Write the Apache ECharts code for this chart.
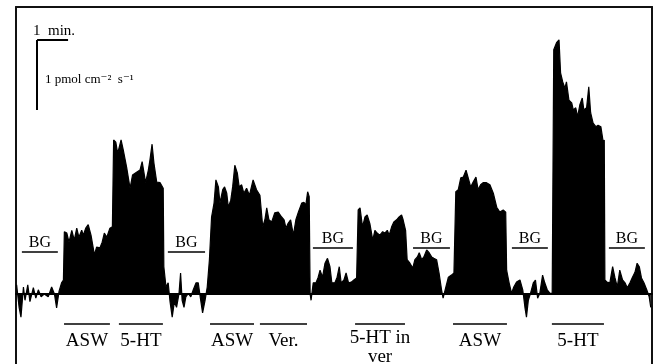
<!DOCTYPE html>
<html>
<head>
<meta charset="utf-8">
<script src="https://cdn.jsdelivr.net/npm/echarts@6/dist/echarts.min.js"></script>
<style>
html, body { margin: 0; padding: 0; background: #fff; }
#chart { width: 657px; height: 364px; }
</style>
</head>
<body>
<div id="chart"></div>
<script>
// flux trace: [time (min), flux (pmol cm-2 s-1)]
var trace = [
    // BG
    [0.02,0.13],[0.10,-0.19],[0.16,-0.33],[0.24,0.10],[0.29,-0.09],[0.38,0.13],[0.45,-0.11],[0.56,0.09],[0.64,-0.06],[0.72,0.06],
    [0.81,-0.04],[0.91,0],[1.04,-0.04],[1.15,0.10],[1.24,0],[1.31,-0.20],[1.39,0.04],[1.47,0.16],[1.53,0.20],
    // ASW
    [1.56,0.89],[1.64,0.87],[1.71,0.74],[1.80,0.91],[1.88,0.77],[1.96,0.94],[2.03,0.81],[2.12,0.91],[2.17,0.84],[2.25,0.94],
    [2.33,0.99],[2.42,0.84],[2.53,0.56],[2.60,0.67],[2.71,0.66],[2.78,0.74],[2.85,0.87],[2.93,0.81],[3.03,0.94],[3.11,0.96],
    // 5-HT
    [3.15,2.20],[3.22,2.17],[3.28,2.01],[3.39,2.20],[3.46,2.06],[3.57,1.81],[3.68,1.51],[3.76,1.70],[3.89,1.74],[4.00,1.77],
    [4.07,1.89],[4.13,1.73],[4.18,1.59],[4.27,1.77],[4.32,1.91],[4.39,2.14],[4.45,1.87],[4.54,1.60],[4.65,1.59],[4.75,1.51],
    // BG
    [4.77,0.39],[4.84,0.10],[4.91,0.16],[4.97,-0.11],[5.04,-0.33],[5.11,-0.11],[5.18,-0.19],[5.26,0.01],[5.31,0.30],[5.36,-0.09],
    [5.42,-0.19],[5.48,-0.04],[5.56,0.01],[5.64,-0.04],[5.72,0.06],[5.81,0.16],[5.88,0.16],[5.96,-0.09],[6.02,-0.27],[6.10,-0.09],
    [6.17,0.10],[6.24,0.49],
    // ASW
    [6.31,1.10],[6.39,1.30],[6.45,1.63],[6.53,1.53],[6.58,1.30],[6.67,1.49],[6.73,1.53],[6.80,1.44],[6.85,1.24],[6.93,1.34],
    [6.99,1.53],[7.06,1.84],[7.14,1.73],[7.20,1.53],[7.28,1.56],[7.35,1.44],[7.44,1.51],[7.53,1.41],[7.65,1.63],[7.76,1.49],
    [7.87,1.41],
    // Ver.
    [7.96,0.96],[8.03,1.06],[8.09,1.23],[8.16,1.06],[8.25,1.03],[8.35,1.16],[8.46,1.17],[8.57,1.10],[8.65,1.06],[8.71,0.94],
    [8.78,1.01],[8.86,1.06],[8.95,0.84],[9.03,1.06],[9.11,1.17],[9.22,1.30],[9.29,1.31],[9.35,1.27],[9.41,1.46],[9.46,1.39],
    // BG
    [9.49,0],[9.52,-0.09],[9.59,0.16],[9.68,0.16],[9.75,0.24],[9.81,0.34],[9.89,0.24],[9.97,0.44],[10.05,0.51],[10.13,0.39],
    [10.19,0.16],[10.29,0.16],[10.36,0.24],[10.43,0.39],[10.49,0.16],[10.58,0.20],[10.65,0.30],[10.73,0.16],[10.82,0.17],[10.90,0.20],
    [10.99,0.23],
    // 5-HT in ver
    [11.04,1.20],[11.10,1.23],[11.18,0.96],[11.26,1.10],[11.33,1.13],[11.42,1.00],[11.51,0.77],[11.58,0.91],[11.65,0.87],[11.74,0.84],
    [11.83,0.89],[11.90,0.87],[11.98,0.91],[12.04,0.84],[12.12,0.96],[12.19,1.03],[12.28,1.06],[12.36,1.10],[12.44,1.13],[12.49,1.06],
    [12.57,0.91],
    // BG
    [12.62,0.49],[12.71,0.44],[12.80,0.37],[12.87,0.49],[12.95,0.53],[13.01,0.59],[13.09,0.49],[13.16,0.53],[13.25,0.63],[13.33,0.59],
    [13.41,0.53],[13.48,0.51],[13.57,0.49],[13.65,0.30],[13.73,0.06],[13.78,-0.06],[13.87,0.10],[13.95,0.24],[14.05,0.27],[14.13,0.30],
    // ASW
    [14.19,1.46],[14.27,1.49],[14.35,1.66],[14.43,1.67],[14.52,1.77],[14.59,1.66],[14.67,1.53],[14.75,1.60],[14.84,1.67],[14.91,1.49],
    [14.99,1.56],[15.07,1.59],[15.18,1.59],[15.29,1.56],[15.40,1.44],[15.51,1.24],[15.61,1.17],[15.72,1.20],[15.80,1.17],
    // BG
    [15.83,0.34],[15.91,0.16],[15.99,0.01],[16.06,0.10],[16.15,0.17],[16.26,0.20],[16.35,0.06],[16.42,-0.19],[16.47,-0.33],[16.53,-0.09],
    [16.60,0.01],[16.69,0.16],[16.76,0.20],[16.83,-0.06],[16.90,0.01],[16.99,0.27],[17.06,0.16],[17.14,0.06],[17.23,0.01],[17.30,0.01],
    // 5-HT
    [17.35,3.49],[17.44,3.59],[17.52,3.63],[17.57,3.16],[17.64,3.03],[17.71,2.94],[17.76,3.03],[17.84,2.77],[17.93,2.73],[17.98,2.63],
    [18.06,2.66],[18.12,2.53],[18.19,2.70],[18.27,2.80],[18.32,2.63],[18.41,2.66],[18.48,2.96],[18.54,2.59],[18.62,2.44],[18.71,2.39],
    [18.78,2.41],[18.87,2.39],[18.95,2.16],[18.98,2.20],
    // BG
    [19.00,0.20],[19.07,0.17],[19.16,0.16],[19.25,0.39],[19.32,0.24],[19.40,0.10],[19.48,0.34],[19.57,0.20],[19.65,0.16],[19.72,0.09],
    [19.81,0.16],[19.89,0.24],[19.97,0.31],[20.04,0.44],[20.11,0.39],[20.18,0.23],[20.26,0.16],[20.35,0.06],[20.43,-0.04],[20.48,-0.19]
];

// background periods (min)
var bgStart = [0.19, 4.90, 9.58, 12.81, 16.00, 19.13];
var bgEnd   = [1.35, 6.10, 10.87, 14.00, 17.16, 20.29];

// treatment periods (min)
var treatNames = ['ASW', '5-HT', 'ASW', 'Ver.', '5-HT in\nver', 'ASW', '5-HT'];
var treatStart = [1.55, 3.32, 6.26, 7.87, 10.94, 14.10, 17.29];
var treatEnd   = [3.03, 4.74, 7.68, 9.39, 12.55, 15.84, 18.97];

// scale bar: 1 min x 1 pmol cm-2 s-1
var scaleT = [0.68, 1.68];
var scaleF = [3.63, 2.63];

var serif = "'Liberation Serif', 'DejaVu Serif', serif";
var myChart = echarts.init(document.getElementById('chart'));

var marks = [];
for (var i = 0; i < bgStart.length; i++) {
    var lv = i < 2 ? 0.60 : 0.66;
    marks.push([
        { coord: [bgStart[i], lv], name: 'BG',
          label: { show: true, position: 'insideMiddleTop', distance: 1, formatter: '{b}',
                   color: '#000', fontFamily: serif, fontSize: 16 } },
        { coord: [bgEnd[i], lv] }
    ]);
}
for (var j = 0; j < treatNames.length; j++) {
    marks.push([
        { coord: [treatStart[j], -0.43], name: treatNames[j],
          label: { show: true, position: 'insideMiddleBottom', distance: j == 4 ? 4 : 7, formatter: '{b}',
                   color: '#000', fontFamily: serif, fontSize: 19, lineHeight: 19 } },
        { coord: [treatEnd[j], -0.43] }
    ]);
}
// scale bar
marks.push([{ coord: [scaleT[0], scaleF[0]], lineStyle: { width: 2 } }, { coord: [scaleT[1], scaleF[0]] }]);
marks.push([{ coord: [scaleT[0], scaleF[0]], lineStyle: { width: 2 } }, { coord: [scaleT[0], scaleF[1]] }]);

var hideAxis = {
    axisTick: { show: false },
    axisLabel: { show: false },
    splitLine: { show: false }
};

var option = {
    animation: false,
    grid: { left: 16, right: 5, top: 7, bottom: 0 },
    xAxis: [
        Object.assign({ type: 'value', min: 0, max: 20.52, position: 'bottom',
            axisLine: { show: true, onZero: true, lineStyle: { color: '#000', width: 2 } } }, hideAxis),
        Object.assign({ type: 'value', min: 0, max: 20.52, position: 'top',
            axisLine: { show: true, onZero: false, lineStyle: { color: '#111', width: 2 } } }, hideAxis)
    ],
    yAxis: [
        Object.assign({ type: 'value', min: -1, max: 4.1, position: 'left',
            axisLine: { show: true, onZero: false, lineStyle: { color: '#111', width: 2 } } }, hideAxis),
        Object.assign({ type: 'value', min: -1, max: 4.1, position: 'right',
            axisLine: { show: true, onZero: false, lineStyle: { color: '#111', width: 2 } } }, hideAxis)
    ],
    graphic: [
        { type: 'text', left: 33, top: 24, style: { text: '1  min.', font: '15px ' + serif, fill: '#000' } },
        { type: 'text', left: 45, top: 73, style: { text: '1 pmol cm\u207B\u00B2  s\u207B\u00B9', font: '13px ' + serif, fill: '#000' } }
    ],
    series: [{
        type: 'line',
        xAxisIndex: 0,
        yAxisIndex: 0,
        data: trace,
        symbol: 'none',
        lineStyle: { color: '#000', width: 1.2 },
        areaStyle: { color: '#000', opacity: 1 },
        markLine: {
            silent: true,
            symbol: ['none', 'none'],
            lineStyle: { color: '#000', type: 'solid', width: 1.5 },
            data: marks
        }
    }]
};
myChart.setOption(option);
</script>
</body>
</html>
